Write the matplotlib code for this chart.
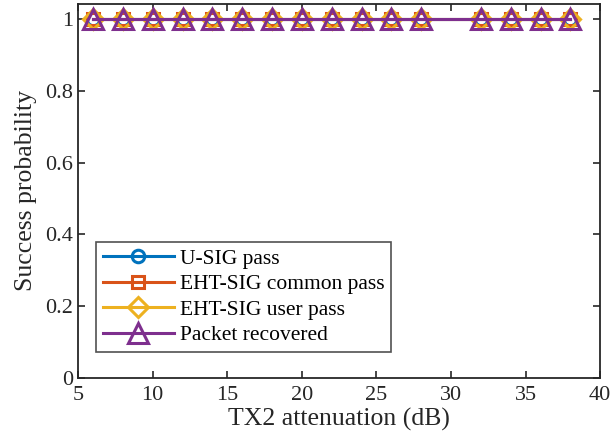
"""
Success probability vs TX2 attenuation
"""
import matplotlib
matplotlib.use('Agg')
import matplotlib.pyplot as plt

# 데이터
atten_db = [6, 8, 10, 12, 14, 16, 18, 20, 22, 24, 26, 28, 32, 34, 36, 38]
usig_pass = [1, 1, 1, 1, 1, 1, 1, 1, 1, 1, 1, 1, 1, 1, 1, 1]
ehtsig_common_pass = [1, 1, 1, 1, 1, 1, 1, 1, 1, 1, 1, 1, 1, 1, 1, 1]
ehtsig_user_pass = [1, 1, 1, 1, 1, 1, 1, 1, 1, 1, 1, 1, 1, 1, 1, 1]
packet_recovered = [1, 1, 1, 1, 1, 1, 1, 1, 1, 1, 1, 1, 1, 1, 1, 1]

series = [
    (usig_pass, 'U-SIG pass', '#0072BD', 'o', 9),
    (ehtsig_common_pass, 'EHT-SIG common pass', '#D95319', 's', 8),
    (ehtsig_user_pass, 'EHT-SIG user pass', '#EDB120', 'D', 10),
    (packet_recovered, 'Packet recovered', '#7E2F8E', '^', 14),
]

plt.rcParams['font.family'] = ['Liberation Serif', 'DejaVu Serif']

fig = plt.figure(figsize=(6.1, 4.45), dpi=100)
ax = fig.add_axes([0.128, 0.151, 0.856, 0.840])

for vals, label, color, marker, ms in series:
    ax.plot(atten_db, vals, color=color, linewidth=2.2, marker=marker,
            markersize=ms, markerfacecolor='none', markeredgewidth=2.2,
            label=label)

ax.set_xlim(5, 40)
ax.set_ylim(0, 1.042)
ax.set_xticks(range(5, 41, 5))
ax.set_yticks([0, 0.2, 0.4, 0.6, 0.8, 1])
ax.set_yticklabels(['0', '0.2', '0.4', '0.6', '0.8', '1'])
ax.tick_params(direction='in', top=True, right=True, labelsize=16,
               length=5, width=1.2, colors='#262626')
ax.tick_params(axis='x', pad=6)
for sp in ax.spines.values():
    sp.set_linewidth(1.3)
    sp.set_color('#262626')

ax.set_xlabel('TX2 attenuation (dB)', fontsize=18.5, color='#262626',
              labelpad=2)
ax.set_ylabel('Success probability', fontsize=18.5, color='#262626',
              labelpad=6)

leg = ax.legend(loc='lower left', fontsize=15.5, handlelength=3.3,
                frameon=True, fancybox=False, edgecolor='#262626',
                bbox_to_anchor=(0.035, 0.07), borderaxespad=0,
                labelspacing=0.25, handletextpad=0.3, borderpad=0.3)
leg.get_frame().set_linewidth(1.2)

fig.savefig('out.png', dpi=100)
plt.close(fig)
